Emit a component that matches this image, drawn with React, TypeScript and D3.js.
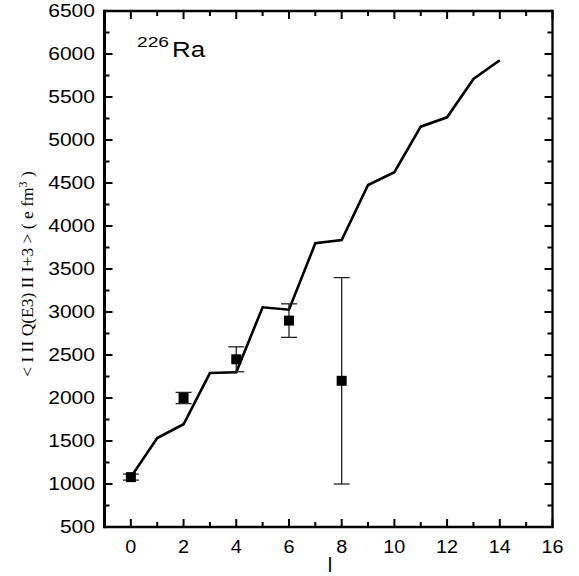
import React from "react";
import * as d3 from "d3";

const theoryL = [0, 1, 2, 3, 4, 5, 6, 7, 8, 9, 10, 11, 12, 13, 14];
const theoryB = [1080, 1535, 1695, 2290, 2300, 3055, 3027, 3799, 3837, 4477, 4625, 5155, 5264, 5709, 5927];

const expL = [0, 2, 4, 6, 8];
const expB = [1080, 2000, 2450, 2900, 2200];
const expErr = [35, 65, 145, 195, 1200];

const xTicks = [0, 2, 4, 6, 8, 10, 12, 14, 16];
const xMinor = [1, 3, 5, 7, 9, 11, 13, 15];
const yTicks = [500, 1000, 1500, 2000, 2500, 3000, 3500, 4000, 4500, 5000, 5500, 6000, 6500];
const yMinor = [750, 1250, 1750, 2250, 2750, 3250, 3750, 4250, 4750, 5250, 5750, 6250];

const L = 104.5, R = 552.5, T = 11, B = 527;

export default function App() {
  const x = d3.scaleLinear().domain([-1, 16]).range([L, R]);
  const y = d3.scaleLinear().domain([500, 6500]).range([B, T]);
  const line = d3.line<number>().x((_, i) => x(theoryL[i])).y((d) => y(d));
  const sans = "'Liberation Sans', Arial, Helvetica, sans-serif";
  const maj = 8, mnr = 5;
  return (
    <svg width={579} height={576} style={{ position: "absolute", left: 0, top: 0, background: "#fff" }}>
      <rect x={0} y={0} width={579} height={576} fill="#fff" />
      {/* ticks */}
      <g stroke="#000" strokeWidth={2}>
        {xTicks.map((t) => (
          <g key={"xt" + t}>
            <line x1={x(t)} x2={x(t)} y1={B} y2={B - maj} />
            <line x1={x(t)} x2={x(t)} y1={T} y2={T + maj} />
          </g>
        ))}
        {xMinor.map((t) => (
          <g key={"xm" + t}>
            <line x1={x(t)} x2={x(t)} y1={B} y2={B - mnr} />
            <line x1={x(t)} x2={x(t)} y1={T} y2={T + mnr} />
          </g>
        ))}
        {yTicks.map((t) => (
          <g key={"yt" + t}>
            <line x1={L} x2={L + maj} y1={y(t)} y2={y(t)} />
            <line x1={R} x2={R - maj} y1={y(t)} y2={y(t)} />
          </g>
        ))}
        {yMinor.map((t) => (
          <g key={"ym" + t}>
            <line x1={L} x2={L + mnr} y1={y(t)} y2={y(t)} />
            <line x1={R} x2={R - mnr} y1={y(t)} y2={y(t)} />
          </g>
        ))}
      </g>
      {/* frame */}
      <line x1={L} x2={R} y1={T} y2={T} stroke="#000" strokeWidth={2.3} />
      <line x1={L} x2={R + 1.2} y1={B} y2={B} stroke="#000" strokeWidth={2.5} />
      <line x1={R} x2={R} y1={T - 1.2} y2={B} stroke="#000" strokeWidth={2.3} />
      <line x1={L} x2={L} y1={T - 1.2} y2={B + 1.3} stroke="#000" strokeWidth={3} />
      {/* tick labels */}
      <g fontFamily={sans} fontSize={18} fill="#000">
        {yTicks.map((t) => (
          <text key={"yl" + t} x={95} y={y(t) + 6.3} textAnchor="end" textLength={String(t).length * 11.7} lengthAdjust="spacingAndGlyphs">
            {t}
          </text>
        ))}
        {xTicks.map((t) => (
          <text key={"xl" + t} x={x(t)} y={552.5} textAnchor="middle" textLength={String(t).length * 11} lengthAdjust="spacingAndGlyphs">
            {t}
          </text>
        ))}
      </g>
      {/* theory line */}
      <path d={line(theoryB) || ""} fill="none" stroke="#000" strokeWidth={2.6} strokeLinejoin="miter" />
      {/* experimental points */}
      <g>
        {expL.map((l, i) => {
          const cx = x(l);
          const lo = y(expB[i] - expErr[i]);
          const hi = y(expB[i] + expErr[i]);
          return (
            <g key={"e" + l} stroke="#222" strokeWidth={1.3}>
              <line x1={cx} x2={cx} y1={lo} y2={hi} />
              <line x1={cx - 8} x2={cx + 8} y1={lo} y2={lo} />
              <line x1={cx - 8} x2={cx + 8} y1={hi} y2={hi} />
              <rect x={cx - 5} y={y(expB[i]) - 5} width={10} height={10} fill="#000" stroke="none" />
            </g>
          );
        })}
      </g>
      {/* nucleus label */}
      <text x={137} y={47} fontFamily={sans} fontSize={15} textLength={32} lengthAdjust="spacingAndGlyphs">226</text>
      <text x={172} y={56.5} fontFamily={sans} fontSize={22} textLength={33} lengthAdjust="spacingAndGlyphs">Ra</text>
      {/* axis titles */}
      <text x={330} y={572} fontFamily={sans} fontSize={20} textAnchor="middle">l</text>
      <text
        transform="translate(33,274) rotate(-90)"
        textAnchor="middle"
        fontFamily="'Liberation Serif', 'Times New Roman', serif"
        fontSize={17.5}
      >
        {"< I II Q(E3) II I+3 > ( e fm"}
        <tspan dy={-6} fontSize={12}>3</tspan>
        <tspan dy={6}>{" )"}</tspan>
      </text>
    </svg>
  );
}
